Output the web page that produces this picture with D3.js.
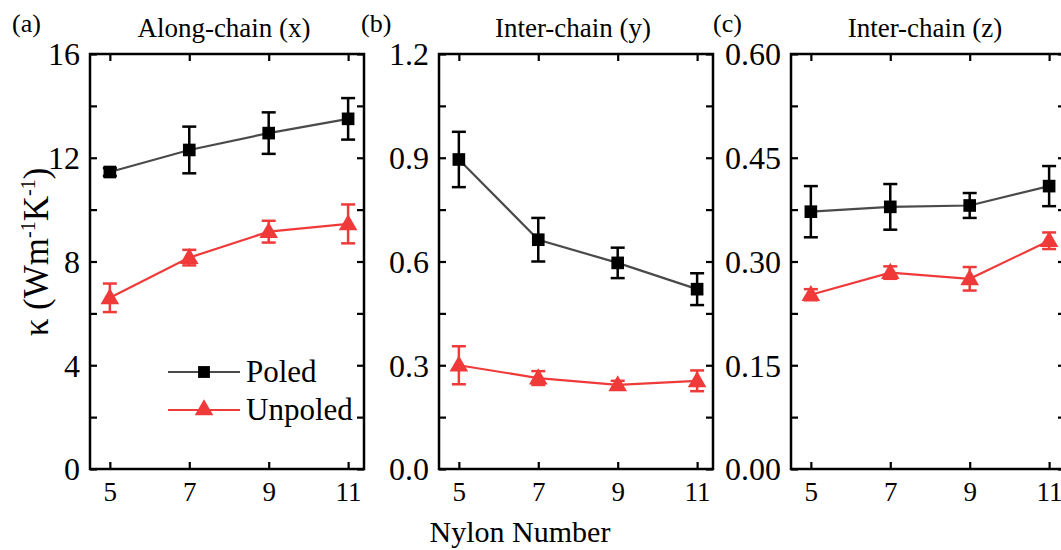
<!DOCTYPE html>
<html>
<head>
<meta charset="utf-8">
<script src="https://cdn.jsdelivr.net/npm/d3@7"></script>
<style>
body { margin: 0; background: #fff; }
svg { display: block; }
svg text { font-family: "Liberation Serif", "DejaVu Serif", serif !important; fill: #000; }
</style>
</head>
<body>
<svg width="1061" height="550"></svg>
<script>
var nylon = [5, 7, 9, 11];
var xTicks = [5, 7, 9, 11];

var poledX = [11.45, 12.3, 12.95, 13.5];
var poledXErr = [0.15, 0.9, 0.8, 0.8];
var unpoledX = [6.6, 8.15, 9.15, 9.45];
var unpoledXErr = [0.55, 0.3, 0.42, 0.75];

var poledY = [0.895, 0.663, 0.596, 0.52];
var poledYErr = [0.08, 0.063, 0.044, 0.046];
var unpoledY = [0.30, 0.263, 0.243, 0.255];
var unpoledYErr = [0.055, 0.02, 0.012, 0.03];

var poledZ = [0.372, 0.379, 0.381, 0.409];
var poledZErr = [0.037, 0.033, 0.018, 0.029];
var unpoledZ = [0.252, 0.284, 0.275, 0.330];
var unpoledZErr = [0.008, 0.009, 0.017, 0.012];

var panelLetters = ["(a)", "(b)", "(c)"];
var panelTitles = ["Along-chain (x)", "Inter-chain (y)", "Inter-chain (z)"];
var yMax = [16, 1.2, 0.6];
var yMajor = [[0, 4, 8, 12, 16], [0, 0.3, 0.6, 0.9, 1.2], [0, 0.15, 0.3, 0.45, 0.6]];
var yMinor = [[2, 6, 10, 14], [0.15, 0.45, 0.75, 1.05], [0.075, 0.225, 0.375, 0.525]];
var yFormat = ["d", ".1f", ".2f"];
var seriesNames = ["Poled", "Unpoled"];

var poledColor = "#000", poledLine = "#4a4a4a", unpoledColor = "#f03a3a";

var svg = d3.select("svg");
var boxTop = 54, boxBottom = 469, w = 274;
var lefts = [90, 439, 791];
var sets = [
	[poledX, poledXErr, unpoledX, unpoledXErr],
	[poledY, poledYErr, unpoledY, unpoledYErr],
	[poledZ, poledZErr, unpoledZ, unpoledZErr]
];

function drawPanel(i){
	var g = svg.append("g").attr("transform", "translate(" + lefts[i] + ",0)");
	var x = d3.scaleLinear().domain([4.5, 11.4]).range([0, w]);
	var y = d3.scaleLinear().domain([0, yMax[i]]).range([boxBottom, boxTop]);

	// ticks all point inward
	var ya = g.append("g").attr("class", "ax")
		.call(d3.axisLeft(y).tickValues(yMajor[i]).tickSizeInner(-7).tickSizeOuter(0)
			.tickPadding(10).tickFormat(d3.format(yFormat[i])));
	ya.attr("font-family", null);
	ya.selectAll("text").style("font-size", "32px").attr("dy", "0.34em");
	g.append("g").attr("class", "ax")
		.call(d3.axisLeft(y).tickValues(yMinor[i]).tickSizeInner(-7).tickSizeOuter(0).tickFormat(""));
	g.append("g").attr("class", "ax").attr("transform", "translate(" + w + ",0)")
		.call(d3.axisRight(y).tickValues(yMajor[i].concat(yMinor[i])).tickSizeInner(-7).tickSizeOuter(0).tickFormat(""));
	var xa = g.append("g").attr("class", "ax").attr("transform", "translate(0," + boxBottom + ")")
		.call(d3.axisBottom(x).tickValues(xTicks).tickSizeInner(-7).tickSizeOuter(0).tickPadding(13).tickFormat(d3.format("d")));
	xa.attr("font-family", null);
	xa.selectAll("text").style("font-size", "27px");
	g.append("g").attr("class", "ax").attr("transform", "translate(0," + boxTop + ")")
		.call(d3.axisTop(x).tickValues(xTicks).tickSizeInner(-7).tickSizeOuter(0).tickFormat(""));

	g.selectAll(".ax .domain").remove();
	g.selectAll(".ax line").attr("stroke", "#000").attr("stroke-width", 2.2);

	g.append("rect").attr("x", 0).attr("y", boxTop).attr("width", w).attr("height", boxBottom - boxTop)
		.attr("fill", "none").attr("stroke", "#000").attr("stroke-width", 2.5);

	var s = sets[i];
	drawSeries(g, x, y, s[2], s[3], unpoledColor, unpoledColor, "tri");
	drawSeries(g, x, y, s[0], s[1], poledColor, poledLine, "sq");

	svg.append("text").attr("x", lefts[i] - 78).attr("y", 32).text(panelLetters[i])
		.style("font-size", "26px");
	svg.append("text").attr("x", lefts[i] + w / 2 - 3).attr("y", 37).attr("text-anchor", "middle")
		.text(panelTitles[i]).style("font-size", "27px");
}

function drawSeries(g, x, y, vals, errs, color, lineColor, shape){
	var pts = nylon.map(function(n, k){ return {n: n, v: vals[k], e: errs[k]}; });
	var line = d3.line().x(function(d){ return x(d.n); }).y(function(d){ return y(d.v); });
	g.append("path").datum(pts).attr("d", line).attr("fill", "none")
		.attr("stroke", lineColor).attr("stroke-width", 2.2);
	var eb = g.selectAll(null).data(pts).enter().append("g").attr("stroke", color).attr("stroke-width", 2.5);
	eb.append("line").attr("x1", function(d){ return x(d.n); }).attr("x2", function(d){ return x(d.n); })
		.attr("y1", function(d){ return y(d.v - d.e); }).attr("y2", function(d){ return y(d.v + d.e); });
	[1, -1].forEach(function(sgn){
		eb.append("line").attr("x1", function(d){ return x(d.n) - 7; }).attr("x2", function(d){ return x(d.n) + 7; })
			.attr("y1", function(d){ return y(d.v + sgn * d.e); }).attr("y2", function(d){ return y(d.v + sgn * d.e); });
	});
	var sym = d3.symbol().type(shape == "sq" ? d3.symbolSquare : d3.symbolTriangle).size(shape == "sq" ? 160 : 150);
	g.selectAll(null).data(pts).enter().append("path")
		.attr("transform", function(d){ return "translate(" + x(d.n) + "," + (y(d.v) + (shape == "tri" ? 1 : 0)) + ")"; })
		.attr("d", sym).attr("fill", color);
}

for (var i = 0; i < 3; i++) drawPanel(i);

// legend in panel (a)
var leg = svg.append("g");
[[poledLine, poledColor, d3.symbolSquare, 372], [unpoledColor, unpoledColor, d3.symbolTriangle, 410]].forEach(function(it, k){
	leg.append("line").attr("x1", 168).attr("x2", 240).attr("y1", it[3]).attr("y2", it[3])
		.attr("stroke", it[0]).attr("stroke-width", 2.2);
	leg.append("path").attr("transform", "translate(204," + it[3] + ")")
		.attr("d", d3.symbol().type(it[2]).size(k == 0 ? 140 : 150)).attr("fill", it[1]);
	leg.append("text").attr("x", 246).attr("y", it[3] + 10).text(seriesNames[k]).style("font-size", "31px");
});

// axis titles
svg.append("text").attr("x", 520).attr("y", 542).attr("text-anchor", "middle")
	.text("Nylon Number").style("font-size", "30px");
var ylab = svg.append("text").attr("transform", "translate(48,252) rotate(-90)").attr("text-anchor", "middle")
	.style("font-size", "35px");
ylab.append("tspan").text("κ (Wm");
ylab.append("tspan").attr("dy", -13).style("font-size", "20px").text("-1");
ylab.append("tspan").attr("dy", 13).text("K");
ylab.append("tspan").attr("dy", -13).style("font-size", "20px").text("-1");
ylab.append("tspan").attr("dy", 13).text(")");
</script>
</body>
</html>
